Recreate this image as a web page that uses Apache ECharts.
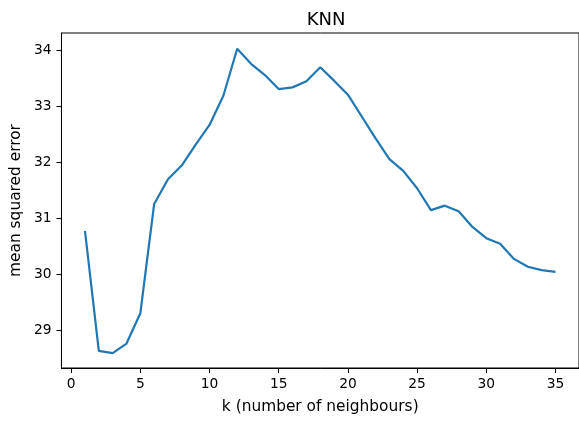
<!DOCTYPE html>
<html>
<head>
<meta charset="utf-8">
<script src="https://cdn.jsdelivr.net/npm/echarts@6/dist/echarts.min.js"></script>
<style>
html,body{margin:0;padding:0;background:#fff;}
#chart{width:579px;height:422px;}
</style>
</head>
<body>
<div id="chart"></div>
<script>
const kValues = [1,2,3,4,5,6,7,8,9,10,11,12,13,14,15,16,17,18,19,20,21,22,23,24,25,26,27,28,29,30,31,32,33,34,35];
const mseValues = [30.78,28.64,28.60,28.77,29.31,31.26,31.70,31.95,32.32,32.67,33.19,34.03,33.76,33.56,33.31,33.34,33.45,33.70,33.46,33.21,32.82,32.43,32.06,31.85,31.54,31.15,31.23,31.13,30.85,30.65,30.55,30.28,30.14,30.08,30.05];
const xTicks = [0,5,10,15,20,25,30,35];
const yTicks = [29,30,31,32,33,34];
const titleText = 'KNN';
const xLabel = 'k (number of neighbours)';
const yLabel = 'mean squared error';

const font = 'DejaVu Sans';
const chart = echarts.init(document.getElementById('chart'), null, {renderer:'canvas'});
chart.setOption({
  animation:false,
  backgroundColor:'#fff',
  title:{text:titleText,left:321,textAlign:'center',top:6,textStyle:{fontFamily:font,fontSize:18,fontWeight:'normal',color:'#000'}},
  grid:{left:61,top:33,width:519,height:335,show:true,borderColor:'#000',borderWidth:1,backgroundColor:'transparent'},
  xAxis:{
    type:'value',min:-0.7,max:36.7,
    name:xLabel,nameLocation:'middle',nameGap:31,
    nameTextStyle:{fontFamily:font,fontSize:15.4,color:'#000'},
    axisLine:{show:true,onZero:false,lineStyle:{color:'#000',width:1}},
    axisTick:{show:true,inside:false,length:5,lineStyle:{color:'#000',width:1},customValues:xTicks},
    axisLabel:{fontFamily:font,fontSize:13.8,color:'#000',margin:9,customValues:xTicks},
    splitLine:{show:false}
  },
  yAxis:{
    type:'value',min:28.334,max:34.31,
    name:yLabel,nameLocation:'middle',nameGap:35,
    nameTextStyle:{fontFamily:font,fontSize:15.4,color:'#000'},
    axisLine:{show:true,onZero:false,lineStyle:{color:'#000',width:1}},
    axisTick:{show:true,inside:false,length:5,lineStyle:{color:'#000',width:1},customValues:yTicks},
    axisLabel:{fontFamily:font,fontSize:13.8,color:'#000',margin:10,customValues:yTicks},
    splitLine:{show:false}
  },
  series:[{
    type:'line',
    data:kValues.map((k,i)=>[k,mseValues[i]]),
    showSymbol:false,
    lineStyle:{color:'#1f77b4',width:2.2},
    itemStyle:{color:'#1f77b4'}
  }]
});
</script>
</body>
</html>
